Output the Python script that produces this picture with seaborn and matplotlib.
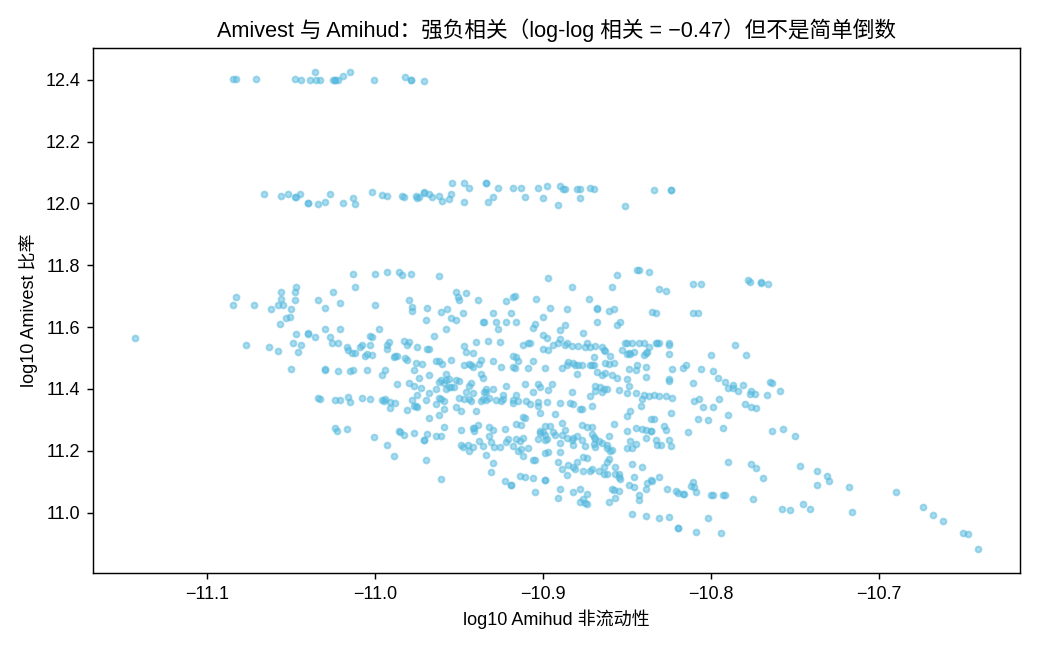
import numpy as np
import pandas as pd
import matplotlib
matplotlib.use("Agg")
import matplotlib.pyplot as plt
import seaborn as sns

# ---- data (log10 Amihud, log10 Amivest) ----
band_top = [
    (-11.085, 12.402), (-11.083, 12.402), (-11.071, 12.402), (-11.048, 12.402), (-11.044, 12.399),
    (-11.036, 12.425), (-11.039, 12.399), (-11.035, 12.399), (-11.033, 12.399), (-11.025, 12.399),
    (-11.024, 12.399), (-11.024, 12.400), (-11.022, 12.399), (-11.019, 12.413), (-11.015, 12.425),
    (-11.001, 12.399), (-10.982, 12.409), (-10.979, 12.400), (-10.979, 12.399), (-10.971, 12.396),
]

band_mid = [
    (-11.066, 12.030), (-11.056, 12.023), (-11.052, 12.030), (-11.048, 12.020), (-11.047, 12.020),
    (-11.045, 12.030), (-11.040, 12.000), (-11.040, 12.001), (-11.034, 11.997), (-11.030, 12.004),
    (-11.027, 12.030), (-11.019, 12.000), (-11.013, 12.017), (-11.012, 11.997), (-11.002, 12.036),
    (-10.996, 12.026), (-10.993, 12.023), (-10.984, 12.023), (-10.983, 12.020), (-10.976, 12.023),
    (-10.975, 12.017), (-10.974, 12.020), (-10.971, 12.033), (-10.971, 12.036), (-10.968, 12.030),
    (-10.966, 12.020), (-10.962, 12.023), (-10.960, 12.007), (-10.956, 12.013), (-10.955, 12.030),
    (-10.954, 12.065), (-10.947, 12.065), (-10.947, 12.004), (-10.944, 12.049), (-10.934, 12.065),
    (-10.934, 12.066), (-10.933, 12.004), (-10.930, 12.020), (-10.927, 12.049), (-10.918, 12.049),
    (-10.913, 12.049), (-10.911, 12.020), (-10.903, 12.049), (-10.900, 12.017), (-10.898, 12.055),
    (-10.891, 11.994), (-10.890, 12.055), (-10.888, 12.046), (-10.887, 12.046), (-10.880, 12.046),
    (-10.878, 12.046), (-10.878, 12.017), (-10.872, 12.049), (-10.870, 12.046), (-10.851, 11.991),
    (-10.834, 12.043), (-10.824, 12.043), (-10.824, 12.044),
]

main_left = [
    (-11.143, 11.566), (-11.083, 11.696), (-11.085, 11.673), (-11.072, 11.673), (-11.056, 11.715),
    (-11.047, 11.731), (-11.048, 11.712), (-11.056, 11.692), (-11.048, 11.686), (-11.058, 11.670),
    (-11.055, 11.670), (-11.062, 11.660), (-11.050, 11.657), (-11.051, 11.634), (-11.053, 11.628),
    (-11.057, 11.611), (-11.034, 11.689), (-11.030, 11.663), (-11.030, 11.595), (-11.047, 11.579),
    (-11.040, 11.579), (-11.040, 11.580), (-11.036, 11.569), (-11.077, 11.543), (-11.063, 11.537),
    (-11.058, 11.524), (-11.049, 11.547), (-11.044, 11.543), (-11.046, 11.521), (-11.050, 11.465),
    (-11.030, 11.462), (-11.030, 11.463), (-11.034, 11.371), (-11.033, 11.369),
]

main_upper = [
    (-11.013, 11.773), (-11.000, 11.773), (-10.993, 11.777), (-10.986, 11.777), (-10.984, 11.770),
    (-10.979, 11.773), (-10.962, 11.764), (-10.897, 11.760), (-11.012, 11.728), (-11.025, 11.712),
    (-11.021, 11.679), (-11.000, 11.670), (-10.980, 11.686), (-10.978, 11.666), (-10.978, 11.653),
    (-10.969, 11.663), (-10.961, 11.650), (-10.957, 11.660), (-10.952, 11.715), (-10.951, 11.696),
    (-10.950, 11.686), (-10.946, 11.709), (-10.939, 11.689), (-10.970, 11.624), (-10.955, 11.628),
    (-10.952, 11.624), (-10.948, 11.647), (-10.922, 11.683), (-10.918, 11.696), (-10.917, 11.699),
    (-10.904, 11.692), (-10.896, 11.663), (-10.930, 11.647), (-10.919, 11.644), (-10.900, 11.634),
    (-10.936, 11.618), (-10.935, 11.618), (-10.928, 11.618), (-10.927, 11.595), (-10.922, 11.618),
    (-10.916, 11.618), (-10.905, 11.611), (-10.906, 11.598), (-11.021, 11.595), (-10.998, 11.595),
    (-10.958, 11.595), (-11.027, 11.569), (-11.026, 11.550), (-11.022, 11.547), (-11.003, 11.572),
    (-11.002, 11.569), (-10.965, 11.572), (-10.992, 11.553), (-10.993, 11.543), (-10.983, 11.556),
    (-10.980, 11.553), (-10.981, 11.543), (-11.003, 11.543), (-11.008, 11.543), (-11.009, 11.534),
    (-11.017, 11.534), (-11.016, 11.527), (-11.014, 11.517), (-11.012, 11.517), (-11.006, 11.508),
    (-11.005, 11.514), (-11.002, 11.511), (-10.993, 11.530), (-10.989, 11.504), (-10.988, 11.508),
    (-10.987, 11.508), (-10.982, 11.501), (-10.981, 11.495), (-10.975, 11.534), (-10.969, 11.530),
    (-10.968, 11.530), (-10.947, 11.540), (-10.946, 11.521), (-10.942, 11.517), (-10.940, 11.553),
    (-10.933, 11.556), (-10.926, 11.553), (-10.912, 11.543), (-10.909, 11.550), (-10.908, 11.550),
    (-10.900, 11.530), (-10.897, 11.527), (-10.900, 11.576), (-10.898, 11.566), (-10.894, 11.543),
    (-10.918, 11.508), (-10.916, 11.504), (-10.915, 11.491), (-10.906, 11.491), (-10.976, 11.485),
    (-10.972, 11.482), (-10.964, 11.491), (-10.962, 11.491), (-10.960, 11.482), (-10.955, 11.495),
    (-10.947, 11.478), (-10.944, 11.482), (-10.943, 11.478), (-10.942, 11.472), (-10.937, 11.495),
    (-10.938, 11.482), (-10.930, 11.491), (-10.925, 11.472), (-10.918, 11.472), (-10.917, 11.469),
    (-10.909, 11.469), (-10.899, 11.469), (-11.022, 11.459), (-11.015, 11.459), (-11.013, 11.462),
    (-11.005, 11.462), (-10.994, 11.462), (-10.996, 11.446), (-10.977, 11.462), (-10.968, 11.446),
    (-10.987, 11.417), (-10.980, 11.420), (-10.977, 11.410), (-10.974, 11.436), (-10.973, 11.404),
    (-10.964, 11.401), (-10.962, 11.423), (-10.961, 11.430), (-10.959, 11.420), (-10.958, 11.449),
    (-10.958, 11.430), (-10.956, 11.433), (-10.958, 11.401), (-10.956, 11.407), (-10.955, 11.407),
    (-10.953, 11.407), (-10.952, 11.430), (-10.950, 11.427), (-10.943, 11.420), (-10.944, 11.410),
    (-10.937, 11.449), (-10.936, 11.436), (-10.946, 11.391), (-10.942, 11.388), (-10.934, 11.401),
    (-10.935, 11.391), (-10.930, 11.401), (-10.922, 11.410), (-10.924, 11.381), (-10.916, 11.381),
    (-10.911, 11.417), (-10.906, 11.391), (-10.903, 11.417), (-10.902, 11.407), (-10.897, 11.397),
    (-10.895, 11.417), (-11.024, 11.365), (-11.021, 11.365), (-11.016, 11.375), (-11.015, 11.359),
    (-11.008, 11.371), (-11.003, 11.368), (-10.996, 11.365), (-10.994, 11.368), (-10.995, 11.362),
    (-10.991, 11.359), (-10.988, 11.355), (-10.978, 11.365), (-10.977, 11.346), (-10.976, 11.346),
    (-10.975, 11.381), (-10.970, 11.365), (-10.968, 11.388), (-10.964, 11.352), (-10.962, 11.371),
    (-10.961, 11.368), (-10.959, 11.362), (-10.952, 11.342), (-10.950, 11.371), (-10.947, 11.368),
    (-10.944, 11.368), (-10.943, 11.362), (-10.937, 11.362), (-10.936, 11.368), (-10.934, 11.365),
    (-10.932, 11.371), (-10.934, 11.391), (-10.928, 11.365), (-10.925, 11.362), (-10.924, 11.368),
    (-10.918, 11.365), (-10.918, 11.355), (-10.915, 11.362), (-10.910, 11.362), (-10.908, 11.352),
    (-10.903, 11.359), (-10.903, 11.346), (-10.898, 11.359),
]

main_lower = [
    (-11.024, 11.274), (-11.023, 11.264), (-11.017, 11.271), (-11.001, 11.245), (-10.993, 11.219),
    (-10.989, 11.183), (-10.986, 11.264), (-10.985, 11.261), (-10.983, 11.252), (-10.977, 11.258),
    (-10.971, 11.235), (-10.971, 11.236), (-10.969, 11.255), (-10.970, 11.171), (-10.964, 11.248),
    (-10.961, 11.248), (-10.968, 11.307), (-10.962, 11.316), (-10.959, 11.336), (-10.959, 11.277),
    (-10.961, 11.109), (-10.981, 11.333), (-10.991, 11.339), (-10.975, 11.342), (-10.949, 11.329),
    (-10.940, 11.329), (-10.949, 11.268), (-10.942, 11.274), (-10.941, 11.274), (-10.941, 11.264),
    (-10.939, 11.284), (-10.932, 11.277), (-10.930, 11.268), (-10.923, 11.271), (-10.932, 11.248),
    (-10.938, 11.232), (-10.936, 11.216), (-10.931, 11.229), (-10.929, 11.213), (-10.926, 11.213),
    (-10.949, 11.219), (-10.948, 11.213), (-10.945, 11.219), (-10.944, 11.200), (-10.942, 11.213),
    (-10.934, 11.187), (-10.930, 11.161), (-10.931, 11.132), (-10.923, 11.102), (-10.919, 11.089),
    (-10.919, 11.090), (-10.914, 11.119), (-10.911, 11.115), (-10.906, 11.112), (-10.905, 11.067),
    (-10.922, 11.229), (-10.921, 11.239), (-10.918, 11.216), (-10.916, 11.239), (-10.914, 11.232),
    (-10.912, 11.242), (-10.915, 11.200), (-10.913, 11.206), (-10.909, 11.209), (-10.912, 11.183),
    (-10.906, 11.171), (-10.905, 11.171), (-10.916, 11.287), (-10.913, 11.284), (-10.912, 11.310),
    (-10.911, 11.307),
]

main_right = [
    (-10.844, 11.786), (-10.843, 11.786), (-10.837, 11.777), (-10.856, 11.767), (-10.883, 11.728),
    (-10.859, 11.728), (-10.831, 11.722), (-10.827, 11.718), (-10.811, 11.738), (-10.806, 11.738),
    (-10.778, 11.751), (-10.777, 11.747), (-10.770, 11.747), (-10.770, 11.741), (-10.766, 11.738),
    (-10.873, 11.692), (-10.886, 11.660), (-10.868, 11.663), (-10.868, 11.657), (-10.861, 11.653),
    (-10.858, 11.660), (-10.835, 11.650), (-10.833, 11.647), (-10.811, 11.647), (-10.808, 11.644),
    (-10.868, 11.618), (-10.856, 11.608), (-10.854, 11.615), (-10.887, 11.608), (-10.890, 11.592),
    (-10.890, 11.563), (-10.876, 11.582), (-10.891, 11.547), (-10.887, 11.543), (-10.886, 11.547),
    (-10.883, 11.540), (-10.879, 11.540), (-10.875, 11.537), (-10.874, 11.547), (-10.872, 11.537),
    (-10.869, 11.540), (-10.865, 11.534), (-10.864, 11.527), (-10.863, 11.524), (-10.860, 11.508),
    (-10.870, 11.504), (-10.853, 11.527), (-10.851, 11.550), (-10.850, 11.547), (-10.847, 11.547),
    (-10.843, 11.547), (-10.840, 11.547), (-10.837, 11.534), (-10.850, 11.514), (-10.849, 11.517),
    (-10.848, 11.514), (-10.846, 11.521), (-10.840, 11.511), (-10.839, 11.517), (-10.838, 11.521),
    (-10.833, 11.547), (-10.832, 11.547), (-10.831, 11.547), (-10.825, 11.543), (-10.825, 11.547),
    (-10.825, 11.514), (-10.786, 11.543), (-10.800, 11.511), (-10.779, 11.511), (-10.885, 11.488),
    (-10.886, 11.478), (-10.882, 11.485), (-10.881, 11.478), (-10.879, 11.478), (-10.877, 11.478),
    (-10.889, 11.469), (-10.872, 11.478), (-10.871, 11.478), (-10.870, 11.478), (-10.863, 11.485),
    (-10.861, 11.482), (-10.858, 11.485), (-10.868, 11.456), (-10.865, 11.446), (-10.863, 11.453),
    (-10.880, 11.449), (-10.859, 11.446), (-10.856, 11.436), (-10.849, 11.465), (-10.845, 11.462),
    (-10.844, 11.478), (-10.839, 11.472), (-10.839, 11.440), (-10.850, 11.433), (-10.849, 11.410),
    (-10.823, 11.465), (-10.825, 11.427), (-10.825, 11.433), (-10.817, 11.469), (-10.815, 11.478),
    (-10.806, 11.465), (-10.799, 11.459), (-10.811, 11.420), (-10.796, 11.436), (-10.792, 11.423),
    (-10.790, 11.404), (-10.787, 11.404), (-10.787, 11.414), (-10.784, 11.394), (-10.781, 11.414),
    (-10.776, 11.394), (-10.777, 11.384), (-10.774, 11.384), (-10.767, 11.381), (-10.765, 11.423),
    (-10.764, 11.420), (-10.759, 11.394), (-10.869, 11.410), (-10.869, 11.394), (-10.866, 11.407),
    (-10.865, 11.391), (-10.864, 11.401), (-10.862, 11.401), (-10.872, 11.378), (-10.883, 11.391),
    (-10.855, 11.397), (-10.850, 11.388), (-10.845, 11.388), (-10.841, 11.368), (-10.840, 11.381),
    (-10.837, 11.378), (-10.834, 11.381), (-10.831, 11.378), (-10.827, 11.378), (-10.823, 11.371),
    (-10.890, 11.355), (-10.884, 11.355), (-10.882, 11.352), (-10.871, 11.346), (-10.842, 11.346),
    (-10.810, 11.362), (-10.807, 11.368), (-10.805, 11.342), (-10.799, 11.342), (-10.795, 11.368),
    (-10.780, 11.352), (-10.776, 11.342),
]

main_bottom = [
    (-10.902, 11.323), (-10.878, 11.336), (-10.877, 11.336), (-10.893, 11.320), (-10.889, 11.290),
    (-10.899, 11.281), (-10.896, 11.281), (-10.902, 11.264), (-10.900, 11.261), (-10.902, 11.258),
    (-10.899, 11.252), (-10.898, 11.239), (-10.899, 11.235), (-10.903, 11.239), (-10.894, 11.261),
    (-10.893, 11.252), (-10.889, 11.252), (-10.887, 11.268), (-10.886, 11.242), (-10.880, 11.248),
    (-10.877, 11.284), (-10.874, 11.277), (-10.871, 11.277), (-10.890, 11.226), (-10.883, 11.235),
    (-10.882, 11.219), (-10.882, 11.242), (-10.877, 11.235), (-10.875, 11.216), (-10.871, 11.255),
    (-10.870, 11.245), (-10.869, 11.239), (-10.867, 11.232), (-10.870, 11.222), (-10.869, 11.213),
    (-10.865, 11.226), (-10.861, 11.248), (-10.862, 11.219), (-10.862, 11.209), (-10.859, 11.203),
    (-10.860, 11.200), (-10.858, 11.287), (-10.899, 11.193), (-10.897, 11.196), (-10.890, 11.196),
    (-10.891, 11.164), (-10.889, 11.141), (-10.886, 11.122), (-10.885, 11.154), (-10.882, 11.148),
    (-10.881, 11.141), (-10.880, 11.164), (-10.876, 11.180), (-10.874, 11.177), (-10.876, 11.135),
    (-10.872, 11.135), (-10.871, 11.141), (-10.867, 11.135), (-10.864, 11.148), (-10.864, 11.125),
    (-10.862, 11.125), (-10.862, 11.164), (-10.861, 11.174), (-10.857, 11.148), (-10.857, 11.125),
    (-10.855, 11.125), (-10.854, 11.109), (-10.855, 11.115), (-10.899, 11.106), (-10.899, 11.107),
    (-10.890, 11.077), (-10.891, 11.047), (-10.882, 11.067), (-10.878, 11.077), (-10.874, 11.060),
    (-10.876, 11.044), (-10.878, 11.034), (-10.875, 11.031), (-10.874, 11.028), (-10.861, 11.034),
    (-10.859, 11.077), (-10.858, 11.073), (-10.855, 11.070), (-10.857, 11.047), (-10.850, 11.264),
    (-10.850, 11.313), (-10.848, 11.329), (-10.848, 11.232), (-10.847, 11.209), (-10.850, 11.209),
    (-10.845, 11.222), (-10.845, 11.274), (-10.841, 11.271), (-10.839, 11.268), (-10.836, 11.264),
    (-10.836, 11.265), (-10.839, 11.242), (-10.836, 11.303), (-10.834, 11.303), (-10.833, 11.235),
    (-10.832, 11.219), (-10.830, 11.219), (-10.828, 11.281), (-10.827, 11.268), (-10.825, 11.235),
    (-10.824, 11.216), (-10.824, 11.323), (-10.847, 11.158), (-10.841, 11.148), (-10.846, 11.115),
    (-10.849, 11.089), (-10.846, 11.083), (-10.839, 11.077), (-10.838, 11.096), (-10.836, 11.106),
    (-10.835, 11.102), (-10.831, 11.115), (-10.843, 11.057), (-10.843, 11.041), (-10.847, 10.995),
    (-10.839, 10.989), (-10.831, 10.983), (-10.825, 10.986), (-10.820, 10.950), (-10.820, 10.951),
    (-10.826, 11.077), (-10.821, 11.070), (-10.820, 11.064), (-10.817, 11.060), (-10.816, 11.060),
    (-10.811, 11.099), (-10.812, 11.086), (-10.810, 11.083), (-10.809, 11.067), (-10.814, 11.261),
    (-10.808, 11.303), (-10.802, 11.300), (-10.793, 11.274), (-10.790, 11.316), (-10.790, 11.164),
    (-10.776, 11.158), (-10.773, 11.145), (-10.769, 11.112), (-10.775, 11.044), (-10.800, 11.057),
    (-10.799, 11.057), (-10.793, 11.057), (-10.792, 11.057), (-10.802, 10.983), (-10.809, 10.937),
    (-10.794, 10.934), (-10.773, 11.339),
]

tail_right = [
    (-10.764, 11.264), (-10.757, 11.271), (-10.750, 11.248), (-10.747, 11.151), (-10.737, 11.135),
    (-10.731, 11.119), (-10.730, 11.102), (-10.737, 11.089), (-10.718, 11.083), (-10.690, 11.067),
    (-10.674, 11.018), (-10.668, 10.992), (-10.662, 10.973), (-10.650, 10.934), (-10.647, 10.931),
    (-10.641, 10.882), (-10.758, 11.012), (-10.753, 11.008), (-10.745, 11.028), (-10.741, 11.012),
    (-10.716, 11.002),
]

title = "Amivest 与 Amihud：强负相关（log-log 相关 = −0.47）但不是简单倒数"
xlabel = "log10 Amihud 非流动性"
ylabel = "log10 Amivest 比率"

all_pts = band_top + band_mid + main_left + main_upper + main_lower + main_right + main_bottom + tail_right
df = pd.DataFrame(all_pts, columns=["amihud", "amivest"])

sns.set_style("ticks")
plt.rcParams["font.family"] = ["Liberation Sans", "Noto Sans CJK SC", "DejaVu Sans"]
plt.rcParams["axes.unicode_minus"] = True
plt.rcParams["text.color"] = "black"
plt.rcParams["axes.labelcolor"] = "black"
plt.rcParams["xtick.color"] = "black"
plt.rcParams["ytick.color"] = "black"

fig = plt.figure(figsize=(8, 5), dpi=130)
ax = fig.add_axes([0.0894, 0.1185, 0.8916, 0.8075])

col = "#55b9de"
sns.scatterplot(data=df, x="amihud", y="amivest", ax=ax, color=col, alpha=0.5,
                s=11, edgecolor=col, linewidth=1.0)

ax.set_title(title, fontsize=12, pad=6, color="black")
ax.set_xlabel(xlabel, fontsize=10)
ax.set_ylabel(ylabel, fontsize=10)
ax.tick_params(labelsize=10, colors="black")
ax.set_xticks([-11.1, -11.0, -10.9, -10.8, -10.7])
ax.set_yticks([11.0, 11.2, 11.4, 11.6, 11.8, 12.0, 12.2, 12.4])
ax.margins(0.05)
for s in ax.spines.values():
    s.set_visible(True)
    s.set_color("black")
    s.set_linewidth(0.8)

fig.savefig("out.png", dpi=130)
